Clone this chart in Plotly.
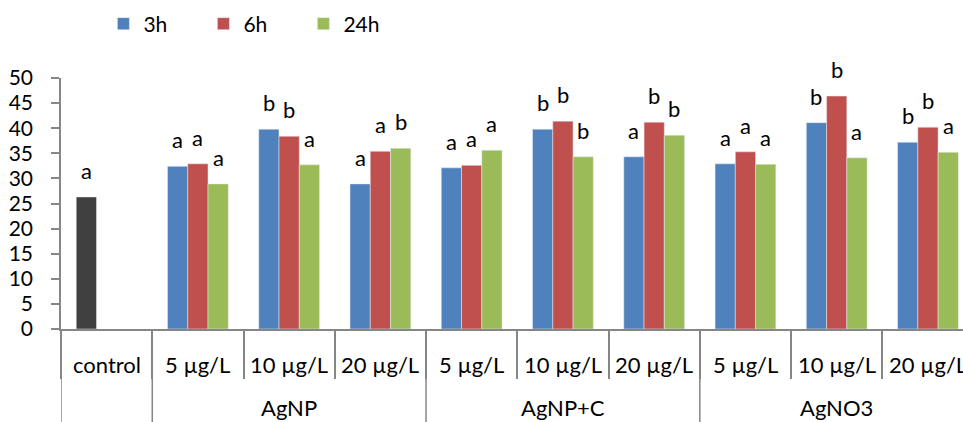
import plotly.graph_objects as go

# ---------------- data ----------------
cat_keys = ["control",
            "AgNP 5", "AgNP 10", "AgNP 20",
            "AgNP+C 5", "AgNP+C 10", "AgNP+C 20",
            "AgNO3 5", "AgNO3 10", "AgNO3 20"]
dose_labels = ["control",
               "5 µg/L", "10 µg/L", "20 µg/L",
               "5 µg/L", "10 µg/L", "20 µg/L",
               "5 µg/L", "10 µg/L", "20 µg/L"]
groups = ["AgNP", "AgNP+C", "AgNO3"]
group_members = [["AgNP 5", "AgNP 10", "AgNP 20"],
                 ["AgNP+C 5", "AgNP+C 10", "AgNP+C 20"],
                 ["AgNO3 5", "AgNO3 10", "AgNO3 20"]]

control_value = [26.3]
control_letter = ["a"]

series_names = ["3h", "6h", "24h"]
vals_3h = [32.4, 39.8, 28.9, 32.1, 39.8, 34.3, 32.9, 41.1, 37.2]
vals_6h = [32.9, 38.4, 35.4, 32.6, 41.4, 41.2, 35.3, 46.4, 40.2]
vals_24h = [28.9, 32.7, 36.0, 35.6, 34.3, 38.6, 32.8, 34.1, 35.2]
letters_3h = ["a", "b", "a", "a", "b", "a", "a", "b", "b"]
letters_6h = ["a", "b", "a", "a", "b", "b", "a", "b", "b"]
letters_24h = ["a", "a", "b", "a", "b", "b", "a", "a", "a"]

# ---------------- style ----------------
FONT = "Lato"
FS_TICK = 21
FS_CAT = 22
FS_LET = 22
FS_LEG = 21
colors = ["#4F81BD", "#C0504D", "#9BBB59"]
control_color = "#404040"
axis_gray = "#868686"

W, H = 963, 422
ML, MR, MT, MB = 61, 0, 78, 93
BARGAP = 0.334
plot_w = W - ML - MR
plot_h = H - MT - MB
cat_px = 91.26
x_range = [-0.5, -0.5 + plot_w / cat_px]
bar_px = cat_px * (1 - BARGAP) / 3

treat_keys = cat_keys[1:]
series_vals = [vals_3h, vals_6h, vals_24h]
series_letters = [letters_3h, letters_6h, letters_24h]

fig = go.Figure()
fig.add_trace(go.Bar(x=cat_keys[:1], y=control_value, marker_color=control_color,
                     offsetgroup="g0", showlegend=False, hoverinfo="skip"))
for k, (name, v) in enumerate(zip(series_names, series_vals)):
    fig.add_trace(go.Bar(x=treat_keys, y=v, name=name, marker_color=colors[k],
                         offsetgroup="g%d" % k))

annotations = []


def letter(xk, yv, txt, k):
    annotations.append(dict(x=xk, y=yv, xref="x", yref="y", text=txt, showarrow=False,
                            yanchor="bottom", xanchor="center", yshift=11,
                            xshift=(k - 1) * bar_px,
                            font=dict(family=FONT, size=FS_LET, color="black")))


letter(cat_keys[0], control_value[0], control_letter[0], 0)
for k in range(3):
    for xk, yv, t in zip(treat_keys, series_vals[k], series_letters[k]):
        letter(xk, yv, t, k)

# category labels
for xk, lab in zip(cat_keys, dose_labels):
    annotations.append(dict(x=xk, y=0, xref="x", yref="paper", text=lab, showarrow=False,
                            yanchor="middle", xanchor="center", yshift=-35,
                            font=dict(family=FONT, size=FS_CAT, color="black")))
for g, mem in zip(groups, group_members):
    i0 = cat_keys.index(mem[0])
    i1 = cat_keys.index(mem[-1])
    annotations.append(dict(x=(i0 + i1) / 2, y=0, xref="x", yref="paper", text=g,
                            showarrow=False, yanchor="middle", xanchor="center", yshift=-78,
                            font=dict(family=FONT, size=FS_CAT, color="black")))

# full-height dividers at group boundaries
shapes = []
bounds = [-0.5, 0.5] + [cat_keys.index(m[-1]) + 0.5 for m in group_members]
for b in bounds:
    shapes.append(dict(type="line", xref="x", yref="paper", x0=b, x1=b, y0=0,
                       y1=-MB / plot_h - 0.01,
                       line=dict(color=axis_gray, width=1.5)))

fig.update_layout(
    width=W, height=H,
    margin=dict(l=ML, r=MR, t=MT, b=MB),
    paper_bgcolor="white", plot_bgcolor="white",
    barmode="group", bargap=BARGAP, bargroupgap=0,
    font=dict(family=FONT, size=FS_TICK, color="black"),
    legend=dict(orientation="h", x=0.047, xanchor="left",
                y=(plot_h + (MT - 24)) / plot_h, yanchor="middle",
                font=dict(family=FONT, size=FS_LEG, color="black"),
                entrywidth=55, entrywidthmode="pixels", traceorder="normal"),
    annotations=annotations,
    shapes=shapes,
    showlegend=True,
)

fig.update_xaxes(type="category", categoryorder="array", categoryarray=cat_keys,
                 range=x_range, showticklabels=False, showline=True, linecolor=axis_gray,
                 linewidth=1.5, ticks="outside", tickson="boundaries", ticklen=48,
                 tickcolor=axis_gray, tickwidth=1.5, showgrid=False, zeroline=False,
                 fixedrange=True)
fig.update_yaxes(range=[0, 50], dtick=5, tick0=0, showline=True, linecolor=axis_gray,
                 linewidth=1.5, ticks="outside", ticklen=8, tickcolor=axis_gray, tickwidth=1.5,
                 showgrid=False, zeroline=False, ticklabelstandoff=14,
                 tickfont=dict(family=FONT, size=FS_TICK, color="black"))

fig.write_html("out.html")
